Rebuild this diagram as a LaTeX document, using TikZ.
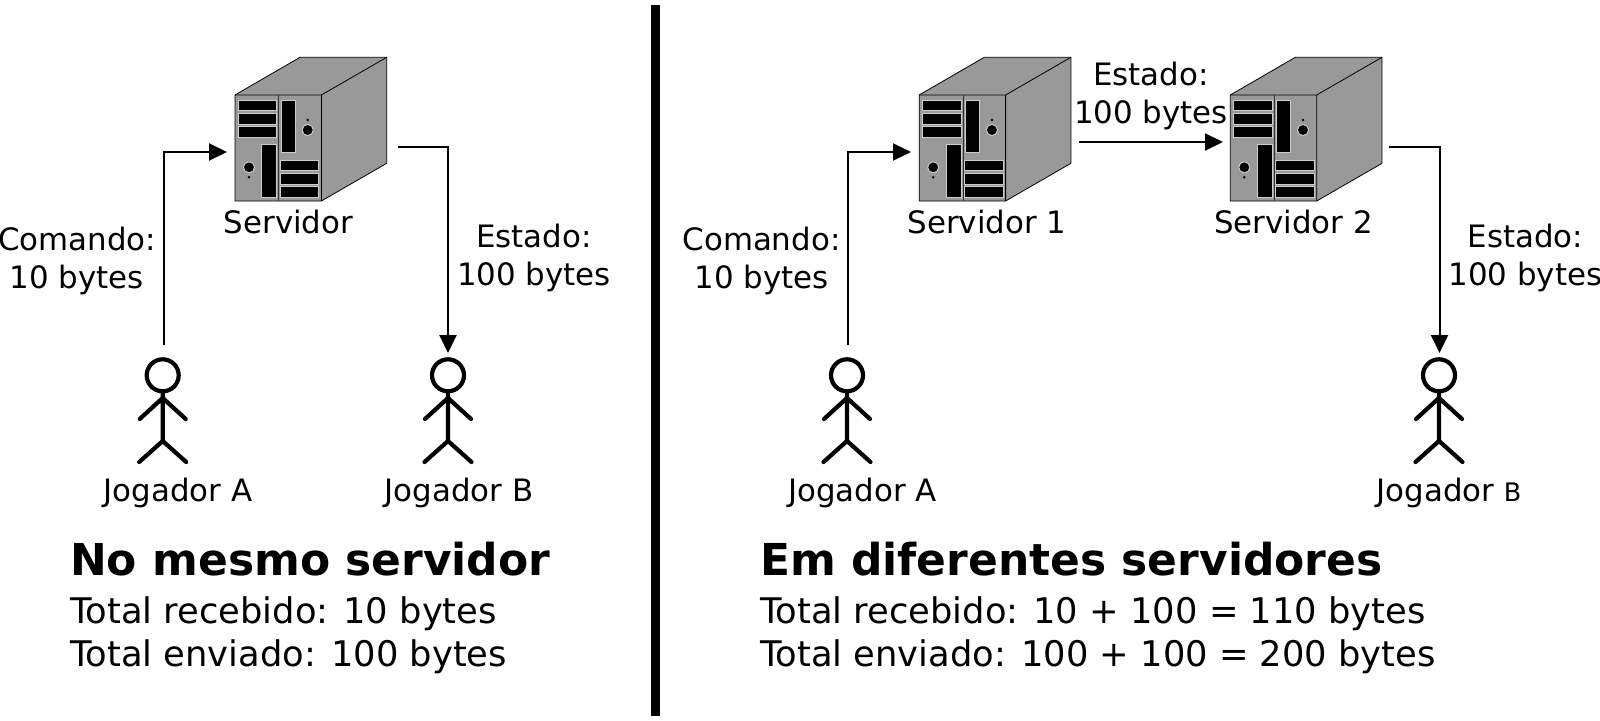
\documentclass[tikz,border=0pt]{standalone}
\usepackage{fontspec}
\setmainfont{DejaVu Sans}
\usetikzlibrary{arrows.meta}
\definecolor{srvgray}{RGB}{153,153,153}
\definecolor{slotedge}{RGB}{205,205,205}
\tikzset{
  x=1pt,y=-1pt,
  lbl/.style={font=\fontsize{30.85}{38}\selectfont,inner sep=0pt,align=center},
  info/.style={font=\fontsize{35.3}{44}\selectfont,inner sep=0pt,anchor=base west},
  head/.style={font=\fontsize{43.95}{50}\selectfont\bfseries,inner sep=0pt,anchor=base west},
  conn/.style={line width=2pt,-{Triangle[length=18pt,width=17pt]}},
  limb/.style={line width=4.2pt,line cap=round,line join=round},
  slot/.style={fill=black,draw=slotedge,line width=0.8pt},
  srv/.pic={
    \fill[srvgray] (235,95)--(300,57.3)--(386.7,57.3)--(386.7,163.3)--(321.4,201)--(235,201)--cycle;
    \draw[black,line width=0.8pt,line join=round] (235,201)--(235,95)--(300,57.3)--(386.7,57.3)--(386.7,163.3)--(321.4,201)--cycle;
    \draw[black,line width=0.8pt] (235,95)--(321.4,95)--(321.4,201) (321.4,95)--(386.7,57.3);
    \draw[black!80,line width=0.8pt] (278.7,95)--(278.7,201);
    \draw[slot] (238.3,100) rectangle (276.7,110.7);
    \draw[slot] (238.3,113.3) rectangle (276.7,124);
    \draw[slot] (238.3,126.7) rectangle (276.7,137.3);
    \draw[slot] (281,100) rectangle (295.3,152.7);
    \draw[slot] (261.7,144.3) rectangle (276.7,197.3);
    \draw[slot] (280.3,160) rectangle (318.7,170.7);
    \draw[slot] (280.3,173.3) rectangle (318.7,184);
    \draw[slot] (280.3,186.7) rectangle (318.7,197.3);
    \fill[slotedge] (307.7,130) circle (5.8) (249,167.3) circle (5.8);
    \fill[black] (307.7,130) circle (4.9) (249,167.3) circle (4.9);
    \fill[black] (307.7,120) circle (1.4) (249,177.3) circle (1.4);
  },
  person/.pic={
    \draw[limb] (0,375.3) circle (16);
    \draw[limb] (0,391.5)--(0,441) (-23,419)--(0,398)--(23,419) (-23.5,462)--(0,441)--(23.5,462);
  }
}
\begin{document}
\begin{tikzpicture}
\useasboundingbox (0,0) rectangle (1600,720);
\fill[white] (0,0) rectangle (1600,720);
\fill[black] (651,5) rectangle (659.5,716);

% Left panel
\pic at (0,0) {srv};
\pic at (162.7,0) {person};
\pic at (448,0) {person};
\coordinate (a1) at (164,345);
\coordinate (a1b) at (227,152);
\coordinate (b1) at (398,147);
\coordinate (b1b) at (448,353);
\draw[conn] (a1) |- (a1b);
\draw[conn] (b1) -| (b1b);
\node[lbl] (s) at (288.5,222) {Servidor};
\node[lbl] (c1) at (77,261) {Comando:\\10 bytes};
\node[lbl] (e1) at (534,258) {Estado:\\100 bytes};
\node[lbl] (ja1) at (178,493) {Jogador A};
\node[lbl] (jb1) at (459,493) {Jogador B};
\node[head] (t1) at (70,575) {No mesmo servidor};
\node[info] (r1) at (70,623.3) {Total recebido: 10 bytes};
\node[info] (n1) at (70,666.5) {Total enviado: 100 bytes};

% Right panel
\pic at (684.2,0) {srv};
\pic at (995.3,0) {srv};
\pic at (847,0) {person};
\pic at (1439,0) {person};
\coordinate (a2) at (848,345);
\coordinate (a2b) at (911,152);
\coordinate (m1) at (1079,142);
\coordinate (m2) at (1223,142);
\coordinate (b2) at (1389,147);
\coordinate (b2b) at (1439.5,353);
\draw[conn] (a2) |- (a2b);
\draw[conn] (m1) -- (m2);
\draw[conn] (b2) -| (b2b);
\node[lbl] (s1) at (987,222) {Servidor 1};
\node[lbl] (s2) at (1293.5,222) {Servidor 2};
\node[lbl] (c2) at (761.5,261) {Comando:\\10 bytes};
\node[lbl] (e2) at (1151,96) {Estado:\\100 bytes};
\node[lbl] (e3) at (1525.5,258) {Estado:\\100 bytes};
\node[lbl] (ja2) at (862.5,493) {Jogador A};
\node[lbl] (jb2) at (1449,493) {Jogador {\fontsize{25.5}{30}\selectfont B}};
\node[head] (t2) at (760,575) {Em diferentes servidores};
\node[info] (r2) at (760,623.3) {Total recebido: 10 + 100 = 110 bytes};
\node[info] (n2) at (760,666.5) {Total enviado: 100 + 100 = 200 bytes};
\end{tikzpicture}
\end{document}
